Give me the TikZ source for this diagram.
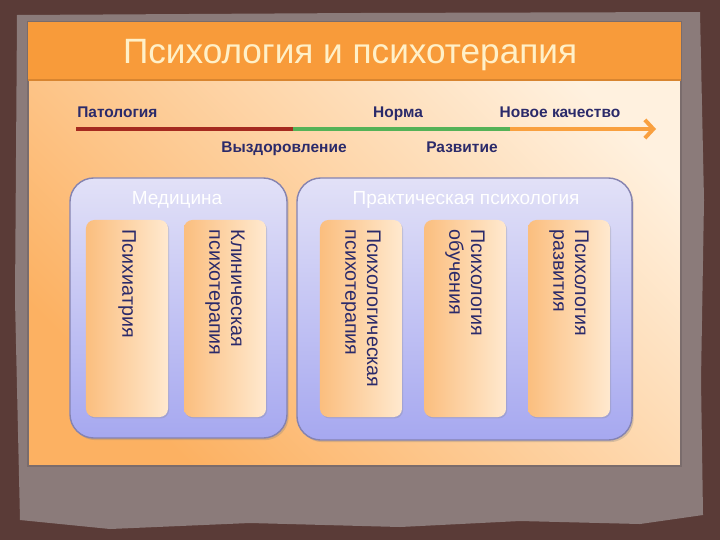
\documentclass[tikz,border=0pt]{standalone}
\usepackage{fontspec}
\setmainfont{Liberation Sans}
\usepackage{xcolor}
\usetikzlibrary{positioning,arrows.meta,shadows}

\definecolor{braun}{HTML}{5A3B37}
\definecolor{grau}{HTML}{8B7B7A}
\definecolor{folienrand}{HTML}{7A6C6C}
\definecolor{creme}{HTML}{FFF1DF}
\definecolor{orangehell}{HTML}{FCB162}
\definecolor{titel}{HTML}{F89B3A}
\definecolor{titelrand}{HTML}{D88530}
\definecolor{titeltext}{HTML}{FFF0C8}
\definecolor{rot}{HTML}{A52A1F}
\definecolor{gruen}{HTML}{55B257}
\definecolor{orangepfeil}{HTML}{F9A03F}
\definecolor{marke}{HTML}{2B2A6A}
\definecolor{lilaoben}{HTML}{E2E1F7}
\definecolor{lilaunten}{HTML}{A6A8F0}
\definecolor{lilarand}{HTML}{8583B0}
\definecolor{saeulelinks}{HTML}{FBBE7E}
\definecolor{saeulerechts}{HTML}{FFE9CF}

\begin{document}
\begin{tikzpicture}[x=0.025cm, y=-0.025cm, node distance=2.45cm]
		
		\tikzset{%
			gruppe/.style   = {draw=lilarand, line width=1pt, rectangle, rounded corners=17pt,
				top color=lilaoben, bottom color=lilaunten,
				drop shadow={opacity=0.3, shadow xshift=1.2pt, shadow yshift=-1.5pt}}, % Rahmen
			saeule/.style   = {rectangle, rounded corners=6pt, minimum width=2.05cm,
				minimum height=4.925cm, left color=saeulelinks, right color=saeulerechts,
				drop shadow={opacity=0.25, shadow xshift=0.8pt, shadow yshift=-1pt}}, % Saeule
			schrift/.style  = {rotate=-90, anchor=west, align=left, inner xsep=7pt,
				text=marke, font=\fontsize{14}{15.5}\selectfont}, % senkrechte Schrift
			marke/.style    = {text=marke, font=\fontsize{11}{13}\selectfont\bfseries, inner sep=0pt},
			kopf/.style     = {text=white, font=\fontsize{13.5}{15}\selectfont, inner sep=0pt},
			linie/.style    = {line width=2.8pt}
		}
		
		\useasboundingbox (0,0) rectangle (720,540);
		\fill[braun] (0,0) rectangle (720,540);
		\fill[grau] (17,15) -- (360,13) -- (700,12) -- (704,200) -- (701,380) -- (703,515)
			-- (640,524) -- (520,521) -- (400,527) -- (250,523) -- (110,529) -- (20,520)
			-- (15,300) -- cycle;
		
		% Folie
		\shade[top color=creme, bottom color=orangehell, shading angle=-45] (28,22) rectangle (681,466);
		\draw[folienrand, line width=0.8pt] (28,22) rectangle (681,466);
		\fill[titel] (28,22) rectangle (681,80);
		\draw[titelrand, line width=1pt] (28,80) -- (681,80);
		\node[text=titeltext, font=\fontsize{25}{28}\selectfont, anchor=base] (titel) at (350,63) {Психология и психотерапия};
		
		% Achse
		\coordinate (pat) at (76,129);
		\coordinate (wende) at (293,129);
		\coordinate (norm) at (510,129);
		\coordinate (ziel) at (656,129);
		\draw[linie, draw=rot] (pat) -- (wende);
		\draw[linie, draw=gruen] (wende) -- (norm);
		\draw[linie, draw=orangepfeil, -{Straight Barb[length=6pt, width=13pt]}] (norm) -- (ziel);
		
		\node[marke, anchor=base west] (patologia) at (77,117) {Патология};
		\node[marke, anchor=base] (norma) at (398,117) {Норма};
		\node[marke, anchor=base] (novoe) at (560,117) {Новое качество};
		\node[marke, anchor=base] (vyzdor) at (284,152) {Выздоровление};
		\node[marke, anchor=base] (razvit) at (462,152) {Развитие};
		
		% Medizin
		\node[gruppe, minimum width=5.425cm, minimum height=6.5cm] (medicina) at (178.5,308) {};
		\node[kopf] (medtitel) at (177,200) {Медицина};
		\node[saeule] (psihiatr) at (127,318.5) {};
		\node[saeule, right of=psihiatr] (klinich) {};
		\node[schrift] (t1) at (psihiatr.north) {Психиатрия};
		\node[schrift] (t2) at (klinich.north) {Клиническая\\психотерапия};
		
		% praktische Psychologie
		\node[gruppe, minimum width=8.375cm, minimum height=6.55cm] (praktika) at (464.5,309) {};
		\node[kopf] (praktitel) at (466,200) {Практическая психология};
		\node[saeule] (psihoter) at (361,318.5) {};
		\node[saeule, right of=psihoter, node distance=2.6cm] (obuch) {};
		\node[saeule, right of=obuch, node distance=2.6cm] (razvitie) {};
		\node[schrift] (t3) at (psihoter.north) {Психологическая\\психотерапия};
		\node[schrift] (t4) at (obuch.north) {Психология\\обучения};
		\node[schrift] (t5) at (razvitie.north) {Психология\\развития};
		
		\end{tikzpicture}
\end{document}
